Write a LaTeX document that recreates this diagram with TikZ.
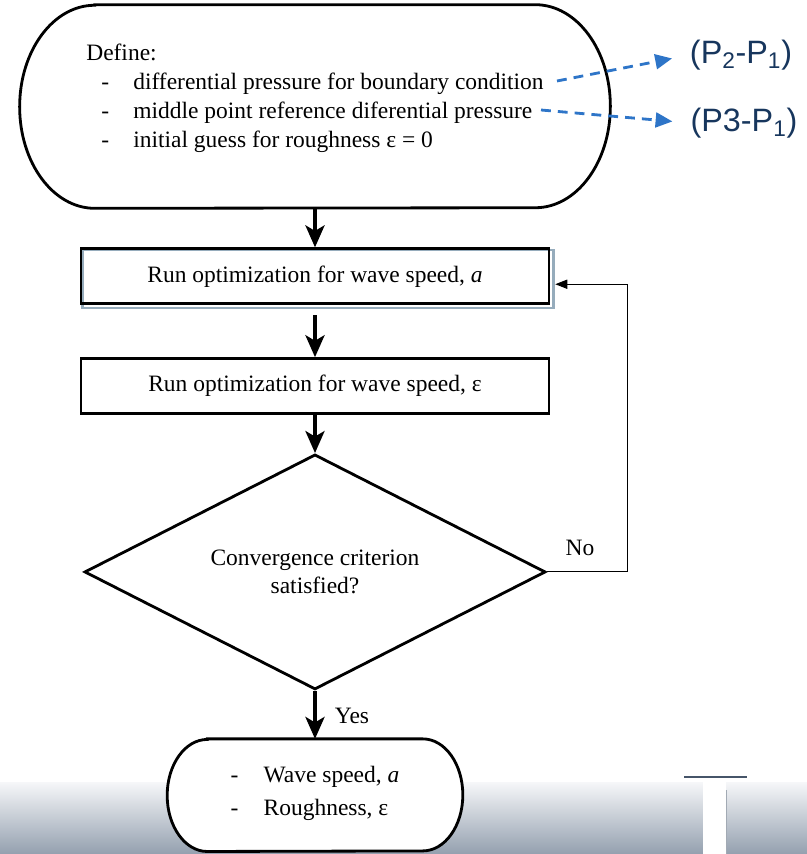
\documentclass[tikz,border=0pt]{standalone}
\usepackage{fontspec}
\setmainfont{Liberation Serif}
\newfontfamily\labelfont{Liberation Sans}
\usetikzlibrary{arrows.meta,positioning,calc,shapes.geometric,backgrounds}

\definecolor{linkblue}{RGB}{46,117,200}
\definecolor{labelnavy}{RGB}{23,54,93}
\definecolor{shadowblue}{RGB}{150,172,188}
\definecolor{bandtop}{RGB}{246,247,249}
\definecolor{bandbottom}{RGB}{148,160,175}
\definecolor{logoline}{RGB}{70,85,105}

% outline of a terminator: node, x radius, y radius
\newcommand{\termoutline}[3]{%
  \draw[line width=2pt,fill=white] ([xshift=#2]#1.north west) -- ([xshift=-#2]#1.north east)
    arc[start angle=90,end angle=-90,x radius=#2,y radius=#3]
    -- ([xshift=#2]#1.south west)
    arc[start angle=270,end angle=90,x radius=#2,y radius=#3] -- cycle;}

\begin{document}
\begin{tikzpicture}[x=0.025cm,y=-0.025cm,
  font=\fontsize{16.7}{20.6}\selectfont,
  runbox/.style={draw,line width=2pt,minimum width=11.7cm,minimum height=1.375cm,inner sep=0pt},
  decision/.style={draw,diamond,aspect=1.96,line width=2pt,minimum width=11.525cm,minimum height=5.875cm,inner sep=0pt,align=center,font=\fontsize{16.7}{19.9}\selectfont},
  flow/.style={-{Stealth[length=0.55cm,width=0.48cm,inset=0.14cm]},line width=2.2pt},
  loop/.style={-{Triangle[length=0.3cm,width=0.23cm]},line width=0.7pt},
  link/.style={-{Triangle[length=0.42cm,width=0.37cm]},linkblue,line width=2pt,dash pattern=on 7pt off 5pt},
  plabel/.style={text=labelnavy,font=\labelfont\fontsize{23}{26}\selectfont,inner sep=0pt}
]
\useasboundingbox (0,0) rectangle (807,854);

\node[minimum width=14.75cm,minimum height=5.075cm,inner sep=0pt] (define) at (315,106.5) {\raisebox{0.2cm}[\height][\depth]{%
  \begin{tabular}{@{}l@{}}
  Define:\\
  \hspace*{0.375cm}\makebox[0.8cm][l]{-}differential pressure for boundary condition\\
  \hspace*{0.375cm}\makebox[0.8cm][l]{-}middle point reference diferential pressure\\
  \hspace*{0.375cm}\makebox[0.8cm][l]{-}initial guess for roughness ε = 0
  \end{tabular}}};
\node[runbox,below=0.975cm of define] (run1) {Run optimization for wave speed, \textit{a}};
\node[runbox,below=1.3cm of run1] (run2) {Run optimization for wave speed, ε};
\node[decision,below=0.95cm of run2] (check) {Convergence criterion\\satisfied?};
\node[minimum width=7.375cm,minimum height=2.8cm,inner sep=0pt,below=1.2cm of check] (result) {\raisebox{0.05cm}[\height][\depth]{%
  \begin{tabular}{@{}l@{}}
  \makebox[0.825cm][l]{-}Wave speed, \textit{a}\\[2.8pt]
  \makebox[0.825cm][l]{-}Roughness, ε
  \end{tabular}}};

\node[plabel] (p21) at (741,55) {(P\textsubscript{2}-P\textsubscript{1})};
\node[plabel] (p31) at (744,123) {(P3-P\textsubscript{1})};
\coordinate (bcend) at (557,81);
\coordinate (mpend) at (541,110);
\node (yes) at (352,716) {Yes};
\node (no) at (580,548) {No};

\begin{scope}[on background layer]
  \fill[white] (0,0) rectangle (807,854);
  \shade[top color=bandtop,bottom color=bandbottom] (0,782) rectangle (807,854);
  \fill[white] (703,780) rectangle (726,854);
  \draw[logoline,line width=0.8pt] (684,777) -- (747,777);
  \draw[logoline!50,line width=0.5pt] (726,790) -- (726,854);
  \termoutline{define}{1.875cm}{2.5375cm}
  \termoutline{result}{1.0cm}{1.4cm}
  \draw[shadowblue,line width=1.5pt] ([shift={(0.075cm,-0.075cm)}]run1.north west) rectangle ([shift={(0.075cm,-0.075cm)}]run1.south east);
\end{scope}

\draw[flow] (define) -- (run1);
\draw[flow,shorten <=0.25cm] (run1) -- (run2);
\draw[flow] (run2) -- (check);
\draw[flow] (check) -- (result);
\draw[loop] (check.east) -- ++(2.0cm,0) |- ([xshift=0.12cm,yshift=-0.2cm]run1.east);
\draw[link,shorten >=0.45cm] (bcend) -- (p21.west);
\draw[link,shorten >=0.45cm] (mpend) -- (p31.west);
\end{tikzpicture}
\end{document}
